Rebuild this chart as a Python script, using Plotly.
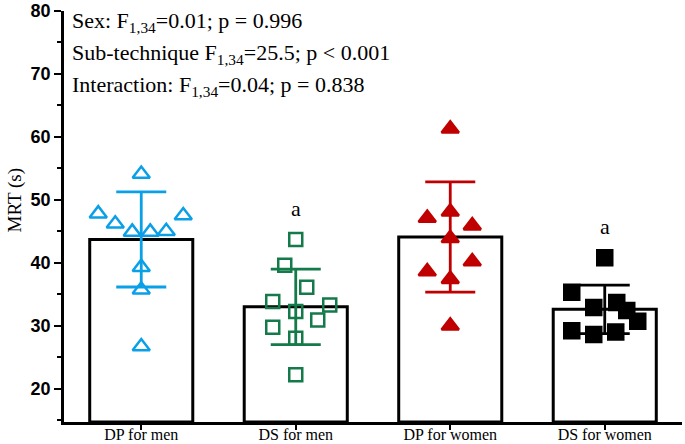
import plotly.graph_objects as go

# ---- data ----
categories = ["DP for men", "DS for men", "DP for women", "DS for women"]
means = [43.7, 33.0, 44.1, 32.6]
sds = [7.55, 6.0, 8.75, 3.85]

dp_men = [54.1, 47.8, 46.2, 44.9, 44.9, 45.0, 47.5, 39.3, 35.7, 26.7]
ds_men = [43.7, 39.6, 36.1, 33.85, 33.3, 32.25, 30.9, 29.75, 28.0, 22.2]
dp_women = [61.3, 47.1, 48.1, 45.9, 43.9, 40.2, 38.6, 37.4, 30.0]
ds_women = [40.8, 35.3, 33.7, 32.9, 32.4, 30.7, 29.2, 28.6, 29.0]

sig_labels = ["", "a", "", "a"]
sig_label_y = [None, 48.6, None, 45.8]
stats_lines = [
    "Sex: F<sub>1,34</sub>=0.01; p = 0.996",
    "Sub-technique F<sub>1,34</sub>=25.5; p &lt; 0.001",
    "Interaction: F<sub>1,34</sub>=0.04; p = 0.838",
]
stats_y = [78.3, 73.2, 68.1]
yticks = [20, 30, 40, 50, 60, 70, 80]

# ---- layout helpers (horizontal jitter in category units) ----
u = 1 / 154.5
jit_dp_men = [0, -43, -26, -9, 9, 25, 42, 0, 0, 0]
jit_ds_men = [0, -11, 11, -23, 34, 0, 22, -23, 0, 0]
jit_dp_women = [0, -23, 0, 22, 0, 22, -23, 0, 0]
jit_ds_women = [0, -33, 12, -11, 22, 33, -33, -11, 11]

blue = "#0AA0E8"
green = "#147A4A"
red = "#C00000"
black = "#000000"

groups = [
    (dp_men, jit_dp_men, blue, "triangle-up-open", 15),
    (ds_men, jit_ds_men, green, "square-open", 13),
    (dp_women, jit_dp_women, red, "triangle-up", 15),
    (ds_women, jit_ds_women, black, "square", 15),
]

YMIN = 14.7
fig = go.Figure()
xs = list(range(len(categories)))
fig.add_trace(go.Bar(
    x=xs, y=[m - YMIN for m in means], base=YMIN, width=0.667,
    marker=dict(color="white", line=dict(color="black", width=3)),
    showlegend=False, hoverinfo="skip",
))

for i, (vals, jit, col, sym, sz) in enumerate(groups):
    fig.add_trace(go.Scatter(
        x=[i], y=[means[i]], mode="markers",
        marker=dict(size=1, color="rgba(0,0,0,0)"),
        error_y=dict(type="data", array=[sds[i]], color=col, thickness=2.8, width=25),
        showlegend=False, hoverinfo="skip",
    ))
    fig.add_trace(go.Scatter(
        x=[i + j * u for j in jit], y=vals, mode="markers",
        marker=dict(symbol=sym, size=sz, color=col, line=dict(width=2.5, color=col)),
        showlegend=False, cliponaxis=False,
    ))

annotations = []
for i, lab in enumerate(sig_labels):
    if lab:
        annotations.append(dict(
            x=i, y=sig_label_y[i], xref="x", yref="y",
            text=lab, showarrow=False,
            font=dict(family="Liberation Serif", size=22, color="black"),
        ))

for k, line in enumerate(stats_lines):
    annotations.append(dict(
        x=(70 - 64) / 618, y=stats_y[k], xref="paper", yref="y",
        xanchor="left", yanchor="middle", text=line, showarrow=False,
        font=dict(family="Liberation Serif", size=22, color="black"),
    ))

annotations.append(dict(
    x=(14 - 64) / 618, y=0.5 + 16 / 411, xref="paper", yref="paper",
    text="MRT (s)", textangle=-90, showarrow=False,
    font=dict(family="Liberation Serif", size=19, color="black"),
    xanchor="center", yanchor="middle",
))

fig.update_layout(
    width=685, height=444,
    margin=dict(l=64, r=3, t=11, b=22),
    plot_bgcolor="white", paper_bgcolor="white",
    annotations=annotations,
    xaxis=dict(
        range=[-0.5, 3.5], tickvals=xs, ticktext=categories,
        showline=True, linecolor="black", linewidth=2.5,
        ticks="outside", ticklen=5, tickwidth=2, tickcolor="black",
        tickfont=dict(family="Liberation Serif", size=16, color="black"),
        ticklabelstandoff=-9,
        showgrid=False, zeroline=False, automargin=False,
    ),
    yaxis=dict(
        range=[YMIN, 80], tickvals=yticks,
        showline=True, linecolor="black", linewidth=2.5,
        ticks="outside", ticklen=7, tickwidth=2, tickcolor="black",
        minor=dict(ticks="outside", ticklen=4, tickwidth=2, tickcolor="black", dtick=5, tick0=15),
        tickfont=dict(family="Liberation Sans", size=18, color="black", weight="bold"),
        showgrid=False, zeroline=False, automargin=False,
    ),
)

fig.write_html(
    "out.html",
    config={"displayModeBar": False},
    post_script="document.body.style.margin='0';",
)
